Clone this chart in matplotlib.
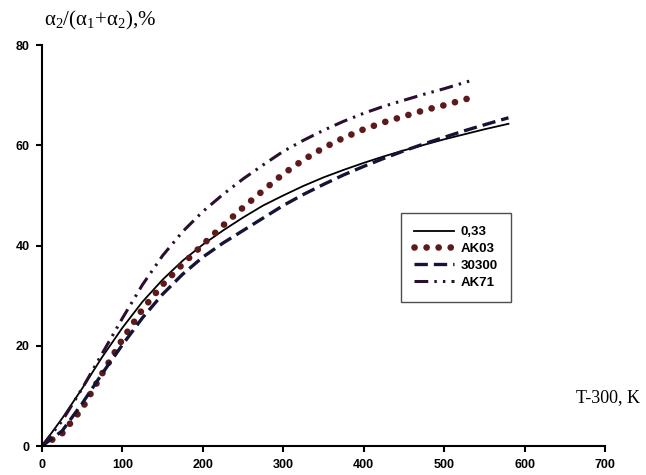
import matplotlib
matplotlib.use("Agg")
import matplotlib.pyplot as plt

# values
x_033 = [0, 25, 50, 75, 100, 125, 150, 175, 200, 225, 250, 275, 300, 325, 350,
         375, 400, 425, 450, 475, 500, 525, 550, 580]
y_033 = [0, 5.5, 11.5, 17.8, 23.6, 28.8, 33.2, 37.0, 40.2, 43.0, 45.6, 48.0, 50.0,
         51.9, 53.6, 55.1, 56.5, 57.8, 59.0, 60.1, 61.2, 62.2, 63.2, 64.3]

x_ak03 = [0, 25, 50, 75, 100, 125, 150, 175, 200, 225, 250, 275, 300, 325, 350,
          375, 400, 425, 450, 475, 500, 540]
y_ak03 = [0, 2.5, 7.5, 14.5, 21.3, 27.3, 32.2, 36.3, 40.2, 44.0, 47.6, 51.0, 54.3,
          57.1, 59.5, 61.5, 63.2, 64.6, 65.8, 67.0, 68.0, 69.8]

x_30300 = [0, 25, 50, 75, 100, 125, 150, 175, 200, 225, 250, 275, 300, 325, 350,
           375, 400, 425, 450, 475, 500, 525, 550, 580]
y_30300 = [0, 3.0, 8.5, 14.5, 20.2, 25.6, 30.3, 34.3, 37.7, 40.5, 43.0, 45.5, 48.0,
           50.2, 52.2, 54.1, 55.8, 57.4, 58.9, 60.3, 61.6, 62.9, 64.1, 65.5]

x_ak71 = [0, 25, 50, 75, 100, 125, 150, 175, 200, 225, 250, 275, 300, 325, 350,
          375, 400, 425, 450, 475, 500, 535]
y_ak71 = [0, 5.0, 11.5, 18.5, 25.5, 32.2, 38.0, 42.8, 46.8, 50.2, 53.3, 56.1, 58.8,
          61.0, 63.0, 64.8, 66.4, 67.8, 69.0, 70.2, 71.3, 73.0]

labels = ["0,33", "AK03", "30300", "AK71"]
xticks = [0, 100, 200, 300, 400, 500, 600, 700]
yticks = [0, 20, 40, 60, 80]

plt.rcParams['mathtext.fontset'] = 'custom'
plt.rcParams['mathtext.rm'] = 'Liberation Serif'
plt.rcParams['mathtext.it'] = 'Liberation Serif'

fig = plt.figure(figsize=(6.46, 4.75), dpi=100)
ax = fig.add_axes([0.065, 0.061, 0.8715, 0.844])

ax.plot(x_033, y_033, color="black", lw=1.3, label=labels[0])
ax.plot(x_ak03, y_ak03, color="#5e1a1a", lw=4.8, linestyle=(0, (0.01, 1.8)),
        dash_capstyle="round", label=labels[1])
ax.plot(x_30300, y_30300, color="#141436", lw=2.4, linestyle=(0, (4, 1.8)),
        label=labels[2])
ax.plot(x_ak71, y_ak71, color="#2a0f2e", lw=2.2, linestyle=(0, (4.5, 2, 0.8, 2, 0.8, 2)),
        label=labels[3])

ax.set_xlim(0, 700)
ax.set_ylim(0, 80)
ax.set_xticks(xticks)
ax.set_yticks(yticks)
for s in ["top", "right"]:
    ax.spines[s].set_visible(False)
for s in ["left", "bottom"]:
    ax.spines[s].set_linewidth(1.5)
ax.tick_params(direction="out", length=4, width=1.5, pad=5)
for t in ax.get_xticklabels() + ax.get_yticklabels():
    t.set_fontfamily("Liberation Sans")
    t.set_fontweight("bold")
    t.set_fontsize(9)

fig.text(0.068, 0.957, r'$\mathrm{α}_2/(\mathrm{α}_1{+}\mathrm{α}_2)$,%',
         fontsize=15, family="Liberation Serif", va="center", ha="left")
fig.text(0.99, 0.162, "T-300, K", fontsize=13, family="Liberation Serif",
         va="center", ha="right")

leg = ax.legend(loc="upper left", bbox_to_anchor=(0.621, 0.552),
                bbox_transform=fig.transFigure, fancybox=False,
                edgecolor="#222222", handlelength=3.0, handletextpad=0.5,
                labelspacing=0.35, borderpad=1.0, borderaxespad=0,
                prop={"family": "Liberation Sans", "weight": "bold", "size": 9.5})
leg.get_frame().set_linewidth(1.0)

fig.savefig("out.png", dpi=100)
